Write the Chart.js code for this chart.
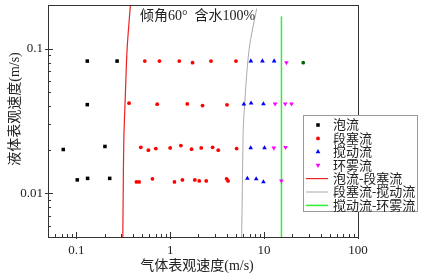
<!DOCTYPE html>
<html lang="zh">
<head>
<meta charset="UTF-8">
<title>倾角60° 含水100%</title>
<style>
  body { margin: 0; background: #fff; }
  #wrap { width: 422px; height: 275px; }
</style>
</head>
<body>
<div id="wrap"><canvas id="flowMap" width="422" height="275"></canvas></div>
<script src="https://cdn.jsdelivr.net/npm/chart.js"></script>
<script>
// flow pattern points: gas superficial velocity (x) and liquid superficial velocity (y), m/s
const bubbleX = [0.131, 0.272, 0.131, 0.0727, 0.202, 0.1025, 0.132, 0.227];
const bubbleY = [0.082, 0.082, 0.041, 0.0201, 0.0211, 0.0124, 0.0127, 0.0127];

const slugX = [0.537, 0.769, 1.25, 1.73, 2.72, 5.02,
               0.365, 0.727, 1.52, 2.21, 4.03,
               0.487, 0.586, 0.703, 1.0, 1.30, 1.69, 2.14, 2.83, 3.25, 5.1,
               0.437, 0.467, 0.647, 1.11, 1.35, 1.83, 2.04, 2.42, 3.99, 4.13];
const slugY = [0.082, 0.082, 0.082, 0.080, 0.082, 0.082,
               0.042, 0.0413, 0.0415, 0.0404, 0.0409,
               0.0208, 0.0199, 0.0204, 0.0206, 0.0214, 0.0202, 0.0206, 0.0208, 0.0199, 0.0204,
               0.0120, 0.0120, 0.0126, 0.0120, 0.0124, 0.0124, 0.0122, 0.0122, 0.0126, 0.0122];

const churnX = [7.23, 9.6, 12.8, 6.09, 7.27, 9.84, 7.2, 10.1, 6.63, 8.24, 9.84];
const churnY = [0.082, 0.082, 0.082, 0.0413, 0.042, 0.0415, 0.0206, 0.0206, 0.0127, 0.0126, 0.0120];

const annularX = [17.3, 13.1, 16.8, 19.6, 12.7, 16.9, 15.3];
const annularY = [0.080, 0.0415, 0.0415, 0.0415, 0.0206, 0.0208, 0.0122];

const otherX = [26.1];
const otherY = [0.080];

// transition boundaries
const bubbleSlugX = [0.313, 0.316, 0.321, 0.334, 0.348, 0.377];
const bubbleSlugY = [0.005, 0.01, 0.0236, 0.05, 0.1, 0.2];
const slugChurnX = [5.77, 5.97, 6.06, 6.92, 8.34];
const slugChurnY = [0.005, 0.0236, 0.0324, 0.0985, 0.189];
const churnAnnularX = [15.3, 15.3];
const churnAnnularY = [0.005, 0.167];

const xLabels = [0.1, 1, 10, 100];
const yLabels = [0.01, 0.1];

const seriesNames = ['泡流', '段塞流', '搅动流', '环雾流', '泡流-段塞流', '段塞流-搅动流', '搅动流-环雾流'];
const chartTitle = '倾角60°  含水100%';
const xTitle = '气体表观速度(m/s)';
const yTitle = '液体表观速度(m/s)';

const NUM_FONT = "'Liberation Serif', 'Noto Sans CJK SC', serif";

function pairs(xs, ys) {
    return xs.map((x, i) => ({ x: x, y: ys[i] }));
}

function logTicks(min, max) {
    const out = [];
    for (let e = -4; e <= 3; e++) {
        for (let m = 1; m <= 9; m++) {
            const v = +(m * Math.pow(10, e)).toPrecision(6);
            if (v >= min - 1e-12 && v <= max + 1e-12) out.push({ value: v, major: m === 1 });
        }
    }
    return out;
}

function isLabel(v, list) {
    return list.some(l => Math.abs(v - l) / l < 1e-6);
}

function pointSet(label, xs, ys, color, style, radius, rotation) {
    return {
        label: label,
        data: pairs(xs, ys),
        showLine: false,
        pointStyle: style,
        pointRadius: radius,
        pointHoverRadius: radius,
        pointRotation: rotation || 0,
        pointBorderWidth: 0,
        backgroundColor: color,
        borderColor: color,
        order: 1
    };
}

function lineSet(label, xs, ys, color, width) {
    return {
        label: label,
        data: pairs(xs, ys),
        showLine: true,
        pointRadius: 0,
        borderColor: color,
        borderWidth: width,
        tension: 0.3,
        order: 2
    };
}

const datasets = [
    pointSet(seriesNames[0], bubbleX, bubbleY, '#000000', 'rect', 2.5),
    pointSet(seriesNames[1], slugX, slugY, '#ff0000', 'circle', 1.9),
    pointSet(seriesNames[2], churnX, churnY, '#0000ff', 'triangle', 2.7),
    pointSet(seriesNames[3], annularX, annularY, '#ff00ff', 'triangle', 2.7, 180),
    lineSet(seriesNames[4], bubbleSlugX, bubbleSlugY, '#ee2222', 1.2),
    lineSet(seriesNames[5], slugChurnX, slugChurnY, '#aaaaaa', 1),
    lineSet(seriesNames[6], churnAnnularX, churnAnnularY, '#33ee33', 1.5),
    pointSet('', otherX, otherY, '#006400', 'circle', 1.9)
];

// frame, inward ticks, titles and the boxed legend
const decorPlugin = {
    id: 'decor',
    afterDraw(chart) {
        const ctx = chart.ctx;
        const a = chart.chartArea;
        const xs = chart.scales.x, ys = chart.scales.y;
        ctx.save();

        ctx.strokeStyle = '#333';
        ctx.lineWidth = 1;
        ctx.strokeRect(Math.round(a.left) + 0.5, Math.round(a.top) + 0.5,
                       Math.round(a.right - a.left), Math.round(a.bottom - a.top));

        ctx.beginPath();
        xs.ticks.forEach(t => {
            const px = Math.round(xs.getPixelForValue(t.value)) + 0.5;
            const len = t.major ? 5 : 3;
            ctx.moveTo(px, a.bottom + (t.major ? 2 : 0));
            ctx.lineTo(px, a.bottom - len);
        });
        ys.ticks.forEach(t => {
            const py = Math.round(ys.getPixelForValue(t.value)) + 0.5;
            const len = t.major ? 5 : 3;
            ctx.moveTo(a.left - (t.major ? 3 : 0), py);
            ctx.lineTo(a.left + len, py);
        });
        ctx.stroke();

        ctx.fillStyle = '#222';
        ctx.font = '14px ' + NUM_FONT;
        ctx.textBaseline = 'middle';
        ctx.textAlign = 'left';
        ctx.fillText(chartTitle, 140, 16);

        ctx.textAlign = 'center';
        ctx.fillText(xTitle, 197, 266);
        ctx.save();
        ctx.translate(15, 109);
        ctx.rotate(-Math.PI / 2);
        ctx.fillText(yTitle, 0, 0);
        ctx.restore();

        // legend
        const lx = 303.5, ly = 115.5, lw = 114, lh = 96;
        ctx.fillStyle = '#fff';
        ctx.fillRect(lx, ly, lw, lh);
        ctx.strokeStyle = '#999';
        ctx.strokeRect(lx, ly, lw, lh);
        ctx.font = '13px ' + NUM_FONT;
        ctx.textAlign = 'left';
        for (let i = 0; i < seriesNames.length; i++) {
            const ds = chart.data.datasets[i];
            const cy = 125 + i * 13.4;
            if (ds.showLine) {
                ctx.strokeStyle = ds.borderColor;
                ctx.lineWidth = ds.borderWidth;
                ctx.beginPath();
                ctx.moveTo(306, cy);
                ctx.lineTo(328, cy);
                ctx.stroke();
            } else {
                ctx.fillStyle = ds.backgroundColor;
                ctx.strokeStyle = ds.borderColor;
                Chart.helpers.drawPoint(ctx, {
                    pointStyle: ds.pointStyle,
                    radius: ds.pointRadius,
                    rotation: ds.pointRotation,
                    borderWidth: 0
                }, 318, cy);
            }
            ctx.fillStyle = '#222';
            ctx.fillText(seriesNames[i], 333, cy + 1);
        }
        ctx.restore();
    }
};

new Chart(document.getElementById('flowMap'), {
    type: 'scatter',
    data: { datasets: datasets },
    options: {
        responsive: false,
        animation: false,
        devicePixelRatio: 1,
        layout: { padding: { left: 0, right: 64, top: 5, bottom: 0 } },
        plugins: {
            legend: { display: false },
            tooltip: { enabled: false }
        },
        scales: {
            x: {
                type: 'logarithmic',
                min: 0.05,
                max: 100,
                afterBuildTicks: s => { s.ticks = logTicks(0.05, 100); },
                afterFit: s => { s.height = 38; s.paddingLeft = 0; s.paddingRight = 0; },
                grid: { display: false, drawTicks: false, tickLength: 0 },
                border: { display: false },
                ticks: {
                    autoSkip: false,
                    maxRotation: 0,
                    padding: 6,
                    color: '#222',
                    font: { family: NUM_FONT, size: 13 },
                    callback: v => isLabel(v, xLabels) ? String(v) : ''
                }
            },
            y: {
                type: 'logarithmic',
                min: 0.005,
                max: 0.2,
                afterBuildTicks: s => { s.ticks = logTicks(0.005, 0.2); },
                afterFit: s => { s.width = 48; s.paddingTop = 0; s.paddingBottom = 0; },
                grid: { display: false, drawTicks: false, tickLength: 0 },
                border: { display: false },
                ticks: {
                    autoSkip: false,
                    padding: 5,
                    color: '#222',
                    font: { family: NUM_FONT, size: 13 },
                    callback: v => isLabel(v, yLabels) ? String(v) : ''
                }
            }
        }
    },
    plugins: [decorPlugin]
});
</script>
</body>
</html>
